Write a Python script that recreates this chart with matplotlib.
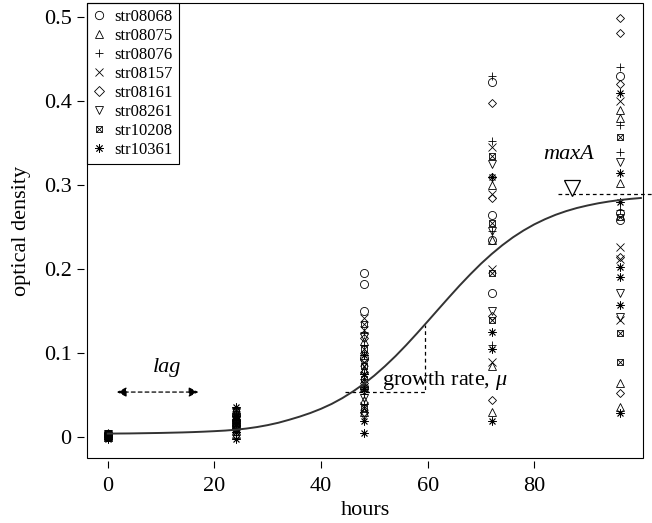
import matplotlib
matplotlib.use('Agg')
import matplotlib.pyplot as plt
from matplotlib.lines import Line2D
from matplotlib.patches import Rectangle
from matplotlib.legend_handler import HandlerTuple

plt.rcParams['font.family'] = ['Liberation Serif', 'DejaVu Serif']
plt.rcParams['mathtext.fontset'] = 'custom'
plt.rcParams['mathtext.rm'] = 'Liberation Serif'
plt.rcParams['mathtext.it'] = 'Liberation Serif:italic'

hours = [0, 24, 48, 72, 96]

# optical density per strain, one list per sampling hour
str08068 = [[0.002, 0.004, 0.001, 0.003],
            [0.012, 0.020, 0.016, 0.028],
            [0.196, 0.183, 0.150, 0.095, 0.060],
            [0.423, 0.265, 0.172, 0.235],
            [0.430, 0.259, 0.267]]
str08075 = [[0.003, 0.000, 0.005],
            [0.008, 0.018, 0.025, 0.004],
            [0.080, 0.060, 0.045, 0.115, 0.030],
            [0.235, 0.085, 0.030, 0.300],
            [0.390, 0.380, 0.303, 0.065, 0.036]]
str08076 = [[0.001, 0.003, 0.004],
            [0.010, 0.022, 0.015, 0.031],
            [0.110, 0.070, 0.040, 0.125, 0.052],
            [0.430, 0.353, 0.245, 0.110],
            [0.372, 0.339, 0.270, 0.440]]
str08157 = [[0.002, 0.000, 0.003],
            [0.014, 0.009, 0.024, 0.019],
            [0.142, 0.128, 0.090, 0.065, 0.038],
            [0.345, 0.290, 0.200, 0.090],
            [0.400, 0.227, 0.140, 0.212]]
str08161 = [[0.003, 0.001, 0.004],
            [0.011, 0.019, 0.006, 0.027],
            [0.100, 0.065, 0.030, 0.078, 0.118],
            [0.398, 0.285, 0.310, 0.145, 0.045],
            [0.499, 0.481, 0.420, 0.215, 0.053]]
str08261 = [[0.002, 0.004, 0.000],
            [0.013, 0.021, 0.017, 0.030],
            [0.120, 0.055, 0.025, 0.088, 0.047],
            [0.325, 0.245, 0.150],
            [0.327, 0.172, 0.143]]
str10208 = [[0.001, 0.003, 0.005],
            [0.015, 0.023, 0.010, 0.033],
            [0.135, 0.085, 0.035, 0.105, 0.070],
            [0.335, 0.255, 0.195, 0.140],
            [0.357, 0.262, 0.124, 0.090]]
str10361 = [[0.004, -0.002, 0.002],
            [0.036, 0.007, -0.002, 0.026],
            [0.075, 0.020, 0.005, 0.058, 0.098],
            [0.310, 0.125, 0.105, 0.020],
            [0.410, 0.315, 0.280, 0.203, 0.191, 0.158, 0.029]]

strain_names = ['str08068', 'str08075', 'str08076', 'str08157',
                'str08161', 'str08261', 'str10208', 'str10361']
strain_data = [str08068, str08075, str08076, str08157,
               str08161, str08261, str10208, str10361]
strain_markers = ['o', '^', '+', 'x', 'D', 'v', 's', (8, 2, 0)]

# fitted growth curve, every 2 hours
curve_h = list(range(0, 101, 2))
curve_od = [0.0046, 0.0047, 0.0048, 0.0050, 0.0052, 0.0054, 0.0057, 0.0060,
            0.0064, 0.0069, 0.0075, 0.0082, 0.0092, 0.0106, 0.0124, 0.0147,
            0.0175, 0.0210, 0.0248, 0.0291, 0.0341, 0.0399, 0.0468, 0.0547,
            0.0636, 0.0736, 0.0848, 0.0969, 0.1100, 0.1238, 0.1380, 0.1524,
            0.1667, 0.1807, 0.1940, 0.2066, 0.2181, 0.2286, 0.2380, 0.2462,
            0.2534, 0.2595, 0.2648, 0.2692, 0.2729, 0.2759, 0.2785, 0.2806,
            0.2823, 0.2837, 0.2848]

lag_span = [1.7, 17.0]
lag_y = 0.054
rate_h = [44.5, 59.5]
rate_od = [0.054, 0.134]
max_a = 0.289

fig = plt.figure(figsize=(6.52, 5.23), dpi=100)
ax = fig.add_axes([0.1334, 0.1243, 0.8528, 0.870])

ms = 5.8
for name, data, mk in zip(strain_names, strain_data, strain_markers):
    for h, vals in zip(hours, data):
        xs = [h] * len(vals)
        if mk == 's':
            ax.plot(xs, vals, ls='none', marker='s', ms=ms * 0.8, mfc='none',
                    mec='black', mew=0.6)
            ax.plot(xs, vals, ls='none', marker='x', ms=ms * 0.8, mec='black', mew=0.6)
        else:
            size = ms * 0.75 if mk == 'D' else ms
            ax.plot(xs, vals, ls='none', marker=mk, ms=size, mfc='none',
                    mec='black', mew=0.6)

ax.plot(curve_h, curve_od, color='#333333', lw=1.4, zorder=5)

# lag arrow
ax.annotate('', xy=(lag_span[0], lag_y), xytext=(lag_span[1], lag_y),
            arrowprops=dict(arrowstyle='<|-|>', ls=(0, (3, 2.5)), lw=0.9,
                            color='black', mutation_scale=14, shrinkA=0, shrinkB=0))
ax.text(11.2, 0.083, 'lag', style='italic', fontsize=16, ha='center', va='center')

# growth rate triangle
ax.plot([rate_h[0], rate_h[1], rate_h[1]], [rate_od[0], rate_od[0], rate_od[1]],
        color='black', ls=(0, (3, 2.5)), lw=0.9)
ax.text(51.4, 0.068, 'growth rate, $\\mu$', fontsize=16, ha='left', va='center')

# maxA
ax.plot([84.5, 102], [max_a, max_a], color='black', ls=(0, (3, 2.5)), lw=0.9,
        clip_on=False)
ax.plot([87], [0.297], marker='v', ms=12, mfc='white', mec='black', mew=0.9)
ax.text(86.4, 0.336, 'maxA', style='italic', fontsize=16, ha='center', va='center')

ax.set_xlim(-3.9, 100.4)
ax.set_ylim(-0.0244, 0.5167)
ax.set_xticks([0, 20, 40, 60, 80])
ax.set_xticklabels(['0', '20', '40', '60', '80'])
ax.set_yticks([0, 0.1, 0.2, 0.3, 0.4, 0.5])
ax.set_yticklabels(['0', '0.1', '0.2', '0.3', '0.4', '0.5'])
ax.tick_params(direction='out', length=5, width=0.8, labelsize=16)
ax.tick_params(axis='x', pad=7)
ax.tick_params(axis='y', pad=4)

for s in ['top', 'right']:
    ax.spines[s].set_visible(False)
for s in ['left', 'bottom']:
    ax.spines[s].set_position(('outward', 2))
    ax.spines[s].set_color('none')
ax.add_patch(Rectangle((0, 0), 1, 1, transform=ax.transAxes, fill=False,
                       lw=0.8, ec='black', clip_on=False, zorder=10))

ax.set_xlabel('hours', fontsize=16, labelpad=3)
ax.set_ylabel('optical density', fontsize=16, labelpad=9)

handles = []
for mk in strain_markers:
    if mk == 's':
        handles.append((Line2D([], [], ls='none', marker='s', ms=5, mfc='none', mec='black', mew=0.6),
                        Line2D([], [], ls='none', marker='x', ms=5, mec='black', mew=0.6)))
    else:
        size = 5 if mk == 'D' else 6
        handles.append(Line2D([], [], ls='none', marker=mk, ms=size, mfc='none',
                              mec='black', mew=0.6))
leg = ax.legend(handles, strain_names, loc='upper left', bbox_to_anchor=(0, 1),
                borderaxespad=0, fontsize=12, frameon=True, fancybox=False,
                edgecolor='black', framealpha=1, handlelength=0.8,
                handletextpad=0.5, labelspacing=0.18, borderpad=0.35,
                handler_map={tuple: HandlerTuple(ndivide=1)})
leg.get_frame().set_linewidth(0.8)

fig.savefig('out.png', dpi=100)
